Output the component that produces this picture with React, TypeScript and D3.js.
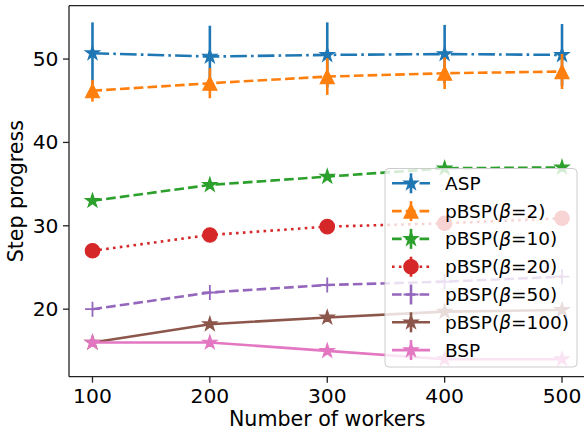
import React from "react";
import * as d3 from "d3";

const workers = [100, 200, 300, 400, 500];
const xTicks = [100, 200, 300, 400, 500];
const yTicks = [20, 30, 40, 50];

const aspVals = [50.7, 50.3, 50.5, 50.6, 50.5];
const aspErr = [3.7, 3.7, 3.9, 3.5, 3.7];
const pbsp2Vals = [46.2, 47.1, 47.9, 48.3, 48.5];
const pbsp2Err = [1.3, 1.8, 2.2, 1.9, 2.1];
const pbsp10Vals = [33.0, 34.9, 35.9, 36.9, 37.0];
const pbsp20Vals = [27.0, 28.9, 29.9, 30.3, 30.9];
const pbsp50Vals = [20.0, 22.0, 22.9, 23.3, 23.9];
const pbsp100Vals = [16.0, 18.2, 19.0, 19.7, 19.9];
const bspVals = [16.0, 16.0, 15.0, 14.0, 14.0];
const zeroErr = [0, 0, 0, 0, 0];

type Series = {
  name: string;
  beta?: string;
  values: number[];
  err: number[];
  color: string;
  dash: string;
  marker: "star" | "tri" | "circle" | "plus";
};

const LW = 2.6;
const dashed = `${3.7 * LW},${1.6 * LW}`;
const dashdot = `${6.4 * LW},${1.6 * LW},${1 * LW},${1.6 * LW}`;
const dotted = `${1 * LW},${1.65 * LW}`;

const series: Series[] = [
  { name: "ASP", values: aspVals, err: aspErr, color: "#1f77b4", dash: dashdot, marker: "star" },
  { name: "pBSP(", beta: "2", values: pbsp2Vals, err: pbsp2Err, color: "#ff7f0e", dash: dashed, marker: "tri" },
  { name: "pBSP(", beta: "10", values: pbsp10Vals, err: zeroErr, color: "#2ca02c", dash: dashed, marker: "star" },
  { name: "pBSP(", beta: "20", values: pbsp20Vals, err: zeroErr, color: "#d62728", dash: dotted, marker: "circle" },
  { name: "pBSP(", beta: "50", values: pbsp50Vals, err: zeroErr, color: "#9467bd", dash: dashed, marker: "plus" },
  { name: "pBSP(", beta: "100", values: pbsp100Vals, err: zeroErr, color: "#8c564b", dash: "", marker: "star" },
  { name: "BSP", values: bspVals, err: zeroErr, color: "#e377c2", dash: "", marker: "star" },
];

const L = 69, R = 585.5, T = 5.7, B = 376.7;
const x = d3.scaleLinear().domain([80, 520]).range([L, R]);
const y = d3.scaleLinear().domain([11.9, 56.4]).range([B, T]);

function starPath(cx: number, cy: number, r: number) {
  const ri = r * 0.381966;
  const pts: string[] = [];
  for (let i = 0; i < 10; i++) {
    const rr = i % 2 === 0 ? r : ri;
    const a = (i * Math.PI) / 5;
    pts.push(`${cx + rr * Math.sin(a)},${cy - rr * Math.cos(a)}`);
  }
  return "M" + pts.join("L") + "Z";
}

function Marker({ kind, cx, cy, color }: { kind: string; cx: number; cy: number; color: string }) {
  if (kind === "star")
    return <path d={starPath(cx, cy, 7.4)} fill={color} stroke={color} strokeWidth={1.2} strokeLinejoin="miter" />;
  if (kind === "tri") {
    const s = 7;
    return (
      <path
        d={`M${cx},${cy - s}L${cx - s},${cy + s}L${cx + s},${cy + s}Z`}
        fill={color}
        stroke={color}
        strokeWidth={1.2}
      />
    );
  }
  if (kind === "circle") return <circle cx={cx} cy={cy} r={7.2} fill={color} stroke={color} strokeWidth={1.2} />;
  return (
    <path
      d={`M${cx - 7.5},${cy}H${cx + 7.5}M${cx},${cy - 7.5}V${cy + 7.5}`}
      stroke={color}
      strokeWidth={1.8}
      fill="none"
    />
  );
}

const font = "'DejaVu Sans', sans-serif";

export default function App() {
  const line = d3
    .line<number>()
    .x((_, i) => x(workers[i]))
    .y((d) => y(d));

  return (
    <div style={{ position: "absolute", left: 0, top: 0 }}>
      <svg width={584} height={434} style={{ display: "block", background: "#fff" }} fontFamily={font}>
        <rect x={0} y={0} width={584} height={434} fill="#fff" />
        {series.map((s, si) => (
          <g key={si}>
            {s.err.map((e, i) =>
              e > 0 ? (
                <line
                  key={i}
                  x1={x(workers[i])}
                  x2={x(workers[i])}
                  y1={y(s.values[i] - e)}
                  y2={y(s.values[i] + e)}
                  stroke={s.color}
                  strokeWidth={LW}
                />
              ) : null
            )}
            <path
              d={line(s.values) || ""}
              fill="none"
              stroke={s.color}
              strokeWidth={LW}
              strokeDasharray={s.dash || undefined}
            />
            {s.values.map((v, i) => (
              <Marker key={i} kind={s.marker} cx={x(workers[i])} cy={y(v)} color={s.color} />
            ))}
          </g>
        ))}

        {/* axes */}
        <line x1={L} x2={L} y1={T} y2={B} stroke="#222" strokeWidth={1.3} />
        <line x1={L} x2={R} y1={B} y2={B} stroke="#222" strokeWidth={1.3} />
        <line x1={L} x2={R} y1={T} y2={T} stroke="#222" strokeWidth={1.3} />
        {yTicks.map((t) => (
          <g key={t}>
            <line x1={L - 6} x2={L} y1={y(t)} y2={y(t)} stroke="#222" strokeWidth={1.3} />
            <text x={L - 10.5} y={y(t)} textAnchor="end" dominantBaseline="central" fontSize={20.3} fill="#000">
              {t}
            </text>
          </g>
        ))}
        {xTicks.map((t) => (
          <g key={t}>
            <line x1={x(t)} x2={x(t)} y1={B} y2={B + 6} stroke="#222" strokeWidth={1.3} />
            <text x={x(t)} y={403} textAnchor="middle" fontSize={20.3} fill="#000">
              {t}
            </text>
          </g>
        ))}
        <text x={(L + R) / 2} y={426} textAnchor="middle" fontSize={20.6} fill="#000">
          Number of workers
        </text>
        <text
          transform={`translate(23,${(T + B) / 2}) rotate(-90)`}
          textAnchor="middle"
          fontSize={20.6}
          fill="#000"
        >
          Step progress
        </text>

        {/* legend */}
        <rect x={385} y={168.5} width={192} height={198.5} rx={4} fill="#fff" fillOpacity={0.8} stroke="#cccccc" strokeWidth={1} />
        {series.map((s, i) => {
          const cy = 183.3 + i * 27.8;
          return (
            <g key={i}>
              <line x1={411} x2={411} y1={cy - 10} y2={cy + 10} stroke={s.color} strokeWidth={LW} />
              <line x1={392} x2={430} y1={cy} y2={cy} stroke={s.color} strokeWidth={LW} strokeDasharray={s.dash || undefined} />
              <Marker kind={s.marker} cx={411} cy={cy} color={s.color} />
              <text x={445} y={cy} dominantBaseline="central" fontSize={18.5} fill="#000">
                {s.name}
                {s.beta ? (
                  <>
                    <tspan fontStyle="italic">β</tspan>
                    {"=" + s.beta + ")"}
                  </>
                ) : null}
              </text>
            </g>
          );
        })}
      </svg>
    </div>
  );
}
